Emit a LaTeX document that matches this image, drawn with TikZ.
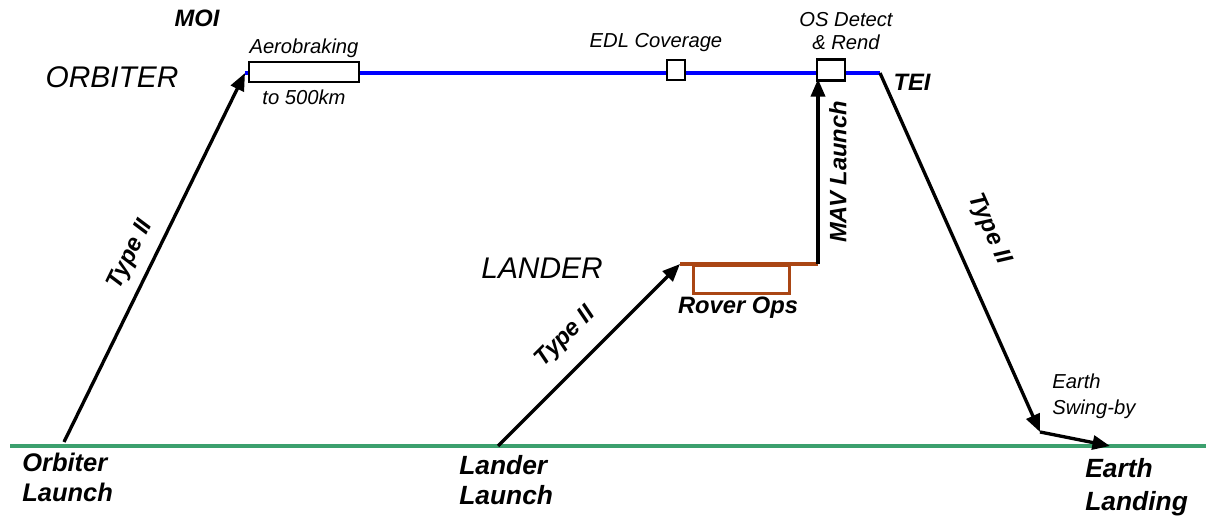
\documentclass[tikz,border=0pt]{standalone}
\usepackage{fontspec}
\setmainfont{Liberation Sans}
\usetikzlibrary{arrows.meta}
\definecolor{orbblue}{RGB}{0,0,255}
\definecolor{gnd}{RGB}{60,160,110}
\definecolor{rover}{RGB}{170,70,20}
\begin{document}
\begin{tikzpicture}[x=0.02cm,y=-0.02cm,
  arr/.style={line width=1.9pt,-{Triangle[length=10pt,width=8pt]}},
  evbox/.style={draw,line width=1.5pt,fill=white,inner sep=0pt},
  small/.style={font=\fontsize{11.5}{14}\selectfont\itshape},
  big/.style={font=\fontsize{13.5}{16}\selectfont\bfseries\itshape},
  title/.style={font=\fontsize{17}{20}\selectfont\itshape},
  ]
\useasboundingbox (0,0) rectangle (1206,516);
% ground line
\coordinate (g0) at (10,446);
\coordinate (g1) at (1206,446);
\draw[gnd,line width=2.2pt] (g0) -- (g1);
% orbiter line
\coordinate (moi) at (245,73);
\coordinate (tei) at (880,73);
\draw[orbblue,line width=2.2pt] (moi) -- (tei);
% boxes on orbiter line
\node[evbox,minimum width=110*0.02cm,minimum height=20*0.02cm] (aero) at (304,72) {};
\node[evbox,minimum width=18*0.02cm,minimum height=20*0.02cm] (edl) at (676,70) {};
\node[evbox,minimum width=28*0.02cm,minimum height=21*0.02cm] (os) at (831,70) {};
% key points
\coordinate (olaunch) at (64,442);
\coordinate (llaunch) at (498,446);
\coordinate (land) at (680,264);
\coordinate (mav) at (818,264);
\coordinate (mavtop) at (818,79);
\coordinate (swing) at (1040,432);
\coordinate (elanding) at (1110,446);
% orbiter transfer
\draw[arr] (olaunch) -- (moi);
% lander transfer
\draw[arr] (llaunch) -- (land);
% lander surface line
\draw[rover,line width=1.8pt] (land) -- (mav);
\node[draw=rover,line width=1.8pt,minimum width=96*0.02cm,minimum height=28*0.02cm,inner sep=0pt,anchor=north west] (rov) at (692,264) {};
% MAV launch
\draw[arr] (mav) -- (mavtop);
% return
\draw[arr] (tei) -- (swing);
\draw[arr] (swing) -- (elanding);
% labels
\node[big] (lmoi) at (197,18) {MOI};
\node[title] (lorb) at (112,77) {ORBITER};
\node[title] (llan) at (542,268) {LANDER};
\node[small] (laero) at (304,48) {Aerobraking};
\node[small] (l500) at (304,97) {to 500km};
\node[small] (ledl) at (656,43) {EDL Coverage};
\node[small,align=center,inner sep=0pt] (los) at (846,31) {OS Detect\\[-1pt]\& Rend};
\node[big] (ltei) at (912,82) {TEI};
\node[big,rotate=64,inner sep=1pt] (lt1) at (131,255) {Type II};
\node[big,rotate=45,inner sep=1pt] (lt2) at (566,337) {Type II};
\node[big,rotate=90,inner sep=1pt] (lmav) at (838,172) {MAV Launch};
\node[big,rotate=-66,inner sep=1pt] (lt3) at (989,229) {Type II};
\node[big] (lrov) at (738,308) {Rover Ops};
\node[small,align=left,anchor=west,inner sep=0pt] (lsw) at (1052,396) {Earth\\[1pt]Swing-by};
\node[font=\fontsize{15}{18.5}\selectfont\bfseries\itshape,align=left,anchor=west,inner sep=0pt] (lel) at (1085,487) {Earth\\Landing};
\node[font=\fontsize{14.5}{17}\selectfont\bfseries\itshape,align=left,anchor=west,inner sep=0pt] (lol) at (22,477) {Orbiter\\Launch};
\node[font=\fontsize{15}{17.5}\selectfont\bfseries\itshape,align=left,anchor=west,inner sep=0pt] (lll) at (459,480) {Lander\\Launch};
\end{tikzpicture}
\end{document}
